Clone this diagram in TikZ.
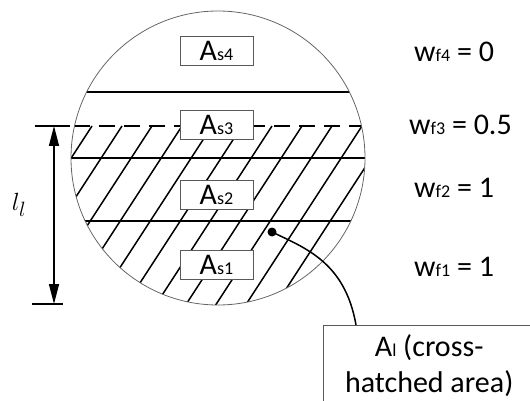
\documentclass[tikz,border=0pt]{standalone}
\usepackage{fontspec}
\setmainfont{Carlito}
\usepackage{tikz}
\usetikzlibrary{arrows.meta,positioning}
\newcommand{\lo}[1]{{\fontsize{18}{18}\selectfont #1}}
\tikzset{
  sbox/.style={draw=black!65,fill=white,minimum width=73pt,minimum height=29pt,inner sep=0pt,font=\fontsize{30}{30}\selectfont},
  wlab/.style={anchor=west,inner sep=0pt,font=\fontsize{30}{30}\selectfont},
  thick line/.style={line width=1.5pt},
  dimtip/.tip={Triangle[length=20pt,width=10pt]}
}

\begin{document}
\begin{tikzpicture}[x=1pt,y=-1pt]
  \useasboundingbox (0,0) rectangle (530,401);
  \coordinate (c) at (218,158);
  % hatched part and layer lines
  \begin{scope}
    \clip (c) circle (147pt);
    \begin{scope}
      \clip (0,126) rectangle (530,320);
      \foreach \k in {0,...,13}
        \draw[thick line] (92+30*\k,126) -- ++(-130,200);
    \end{scope}
    \draw[thick line] (0,92) -- (530,92);
    \draw[thick line] (0,158) -- (530,158);
    \draw[thick line] (0,221) -- (530,221);
    \draw[thick line,dash pattern=on 16pt off 9pt] (74,126) -- (530,126);
  \end{scope}
  \draw[black!60,line width=0.8pt] (c) circle (147pt);
  \node[sbox] (as4) at (216.5,50.5) {A\lo{s4}};
  \node[sbox] (as3) at (216.5,124.5) {A\lo{s3}};
  \node[sbox] (as2) at (216.5,194.5) {A\lo{s2}};
  \node[sbox] (as1) at (216.5,265) {A\lo{s1}};
  \node[wlab] (wf4) at (414,52) {w\lo{f4} = 0};
  \node[wlab] (wf3) at (409,125) {w\lo{f3} = 0.5};
  \node[wlab] (wf2) at (414,188) {w\lo{f2} = 1};
  \node[wlab] (wf1) at (414,267) {w\lo{f1} = 1};
  % height of the wetted part
  \coordinate (ltop) at (54,126);
  \coordinate (lbot) at (54,304);
  \draw[thick line] (35,126) -- (70,126);
  \draw[thick line] (32,304) -- (63,304);
  \draw[thick line,dimtip-dimtip] (ltop) -- (lbot);
  \node (ll) at (19,205) {\fontsize{30}{30}\selectfont$l_l$};
  % call-out
  \node[draw=black!65,fill=white,anchor=north west,minimum width=212pt,minimum height=80pt,
        inner sep=0pt,align=center,font=\fontsize{30}{36}\selectfont] (area) at (323,325)
        {A\lo{l} (cross-\\hatched area)};
  \node[circle,fill,inner sep=0pt,minimum size=9pt] (dot) at (272,232) {};
  \coordinate (tip) at (356,325);
  \draw[thick line] (dot.center) .. controls (305,248) and (345,262) .. (tip);
\end{tikzpicture}
\end{document}
